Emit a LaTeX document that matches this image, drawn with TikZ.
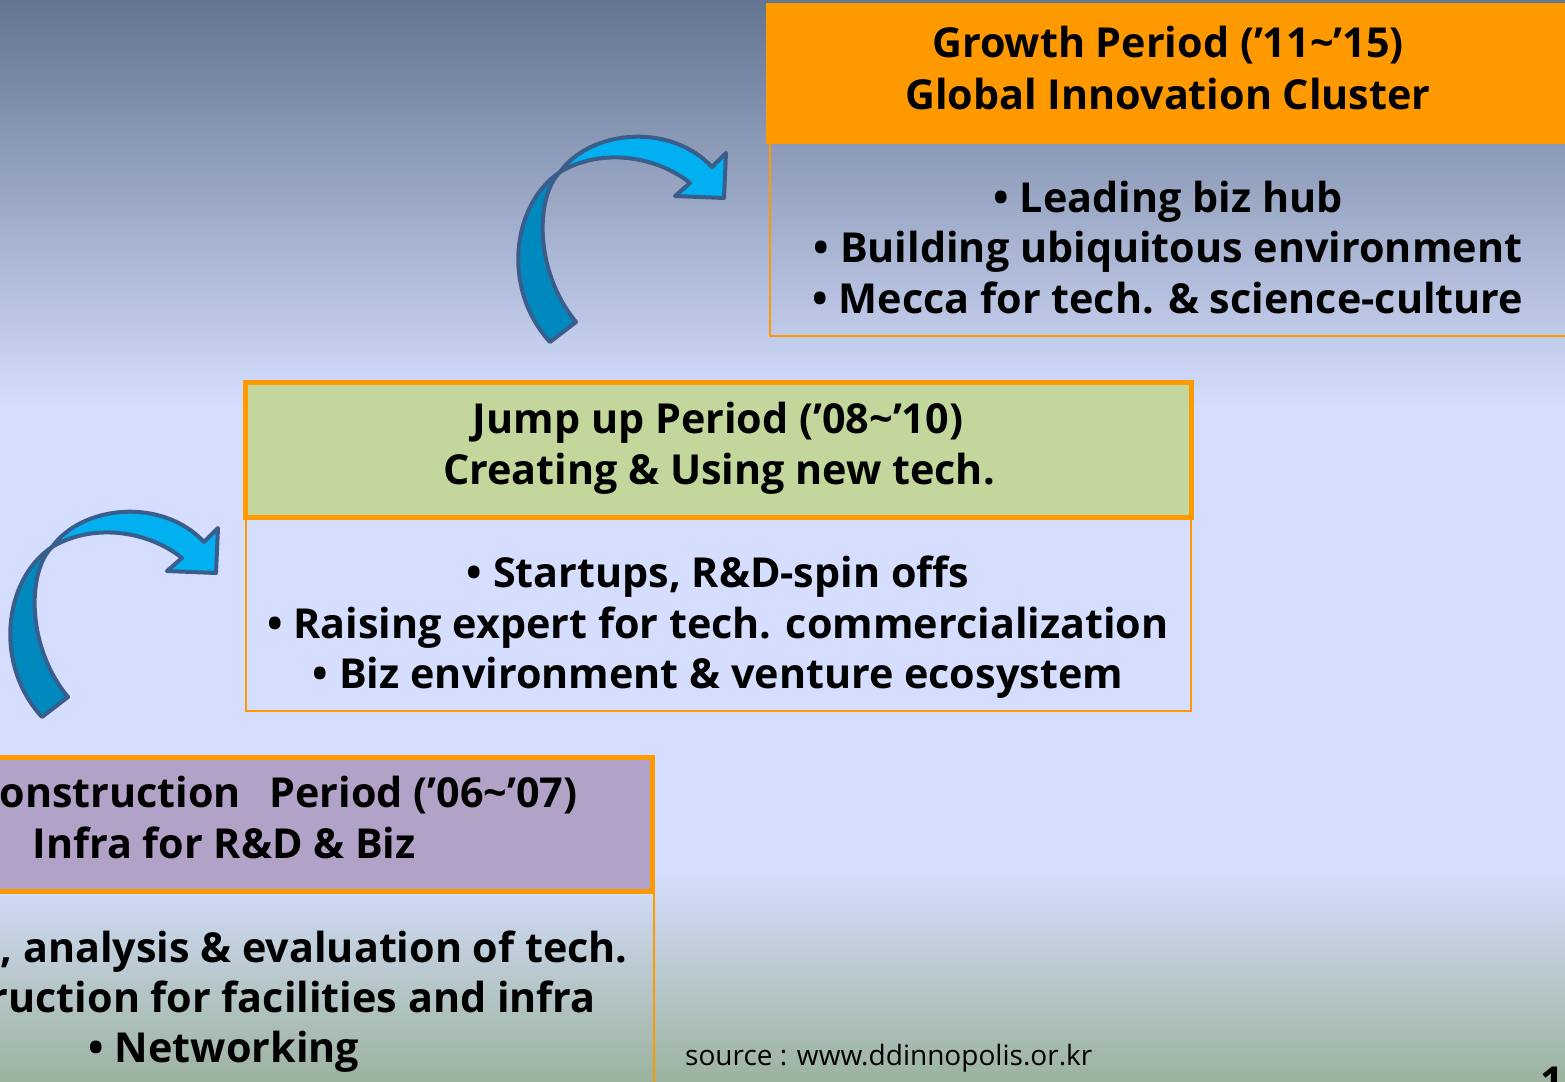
\documentclass[tikz,border=0pt]{standalone}
\usepackage{fontspec}
\setmainfont{Open Sans}
\usetikzlibrary{calc}

\definecolor{bgtop}{HTML}{637590}
\definecolor{bgmid}{HTML}{D5DEFE}
\definecolor{bgbot}{HTML}{9CB39F}
\definecolor{orangeB}{HTML}{FF9900}
\definecolor{greenH}{HTML}{C3D69B}
\definecolor{purpleH}{HTML}{B2A2C7}
\definecolor{arrowLight}{HTML}{00B0F0}
\definecolor{arrowDark}{HTML}{0089BE}
\definecolor{arrowEdge}{HTML}{3A5E8C}

\tikzset{
  boxhead/.style={rectangle, draw=orangeB, line width=5pt, inner sep=0pt},
  boxbody/.style={rectangle, draw=orangeB, line width=2pt, inner sep=0pt},
  line/.style={font=\bfseries\fontsize{41.3}{51}\selectfont, inner sep=0pt, anchor=base, text=black},
  ribbon/.style={draw=arrowEdge, line width=4pt, line join=round},
  pics/twistarrow/.style={code={
    % lower (dark) half of the twisted ribbon
    \filldraw[ribbon, fill=arrowDark]
      (550,342) .. controls (502,290) and (511,205) .. (560,172)
      .. controls (536,195) and (533,270) .. (576,322) -- cycle;
    % upper (light) half with the arrow head
    \filldraw[ribbon, fill=arrowLight]
      (560,172) .. controls (590,130) and (670,122) .. (712,167)
      -- (726,153) -- (724,198) -- (675,196) -- (690,183)
      .. controls (655,155) and (600,148) .. (560,172) -- cycle;
  }}
}

\begin{document}
\begin{tikzpicture}[x=1pt, y=-1pt]
\useasboundingbox (0,0) rectangle (1565,1081);
\clip (0,0) rectangle (1565,1081);

% background
\shade[top color=bgtop, bottom color=bgmid] (0,0) rectangle (1565,410);
\fill[bgmid] (0,409) rectangle (1565,871);
\shade[top color=bgmid, bottom color=bgbot] (0,870) rectangle (1565,1081);

% growth period box
\node[boxbody, minimum width=830pt, minimum height=193pt] (gbody) at (1185,239.5) {};
\node[rectangle, fill=orangeB, draw=orangeB, line width=1pt, minimum width=834pt, minimum height=139pt] (ghead) at (1183,73.5) {};

% jump up period box
\node[boxbody, minimum width=945pt, minimum height=194pt] (jbody) at (718.5,614) {};
\node[boxhead, fill=greenH, minimum width=946pt, minimum height=135pt] (jhead) at (718,449.5) {};

% construction period box
\node[boxbody, minimum width=864pt, minimum height=208pt] (cbody) at (222,996) {};
\node[boxhead, fill=purpleH, minimum width=862pt, minimum height=134pt] (chead) at (221,824) {};

% growth texts
\node[line] (g1) at (1168,58) {Growth Period (’11\char"7E’15)};
\node[line] (g2) at (1168,109) {Global Innovation Cluster};
\node[line] (g3) at (1168,212) {• Leading biz hub};
\node[line] (g4) at (1168,262) {• Building ubiquitous environment};
\node[line] (g5) at (1168,313) {• Mecca for tech. \& science-culture};

% jump up texts
\node[line] (j1) at (718,433) {Jump up Period (’08\char"7E’10)};
\node[line] (j2) at (719,484) {Creating \& Using new tech.};
\node[line] (j3) at (718,587) {• Startups, R\&D-spin offs};
\node[line] (j4) at (718,638) {• Raising expert for tech. commercialization};
\node[line] (j5) at (718,688) {• Biz environment \& venture ecosystem};

% construction texts
\node[line, anchor=base west] (c1) at (-27,807) {Construction\ \ \hspace{7pt}Period (’06\char"7E’07)};
\node[line] (c2) at (224,858) {Infra for R\&D \& Biz};
\node[line, anchor=base east] (c3) at (628,962) {• Research, analysis \& evaluation of tech.};
\node[line, anchor=base east] (c4) at (596,1012) {• Construction for facilities and infra};
\node[line] (c5) at (224,1062) {• Networking};

% source and page number
\node[font=\fontsize{28}{33}\selectfont, inner sep=0pt, anchor=base west] (src) at (685,1065) {source : www.ddinnopolis.or.kr};
\node[line] (pg) at (1552,1096) {1};

% curved arrows between the periods
\pic (arrowup) at (0,0) {twistarrow};
\pic (arrowlow) at (-508,375) {twistarrow};
\end{tikzpicture}
\end{document}
